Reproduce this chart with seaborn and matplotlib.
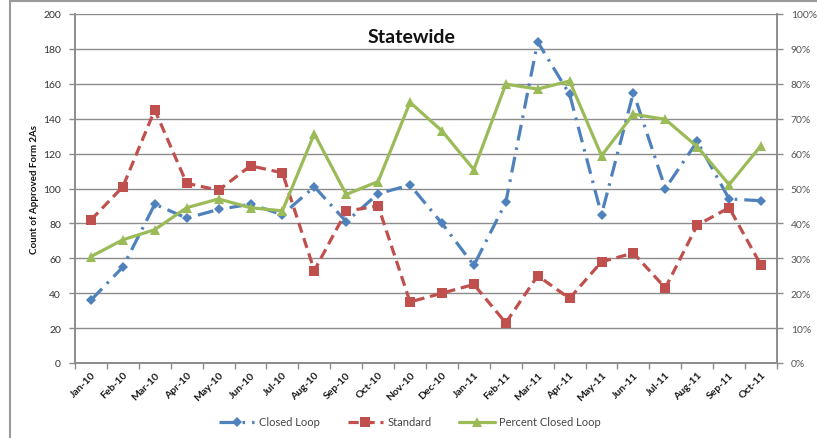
import matplotlib
matplotlib.use("Agg")
import matplotlib.pyplot as plt
from matplotlib.lines import Line2D
from matplotlib.ticker import PercentFormatter, MultipleLocator
import numpy as np
import pandas as pd
import seaborn as sns

months = ["Jan-10", "Feb-10", "Mar-10", "Apr-10", "May-10", "Jun-10", "Jul-10",
          "Aug-10", "Sep-10", "Oct-10", "Nov-10", "Dec-10", "Jan-11", "Feb-11",
          "Mar-11", "Apr-11", "May-11", "Jun-11", "Jul-11", "Aug-11", "Sep-11",
          "Oct-11"]
closed_loop = [36, 55, 91, 83, 88, 91, 85, 101, 81, 97, 102, 80, 56, 92,
               184, 154, 85, 155, 100, 127, 94, 93]
standard = [82, 101, 145, 103, 99, 113, 109, 53, 87, 90, 35, 40, 45, 23,
            50, 37, 58, 63, 43, 79, 89, 56]
percent_closed = [30.5, 35.3, 38.2, 44.5, 47.0, 44.5, 43.6, 65.7, 48.3, 52.0,
                  74.7, 66.5, 55.4, 79.9, 78.5, 80.8, 59.4, 71.3, 69.8, 62.0,
                  51.1, 62.3]

BLUE = "#4F81BD"
RED = "#C0504D"
GREEN = "#9BBB59"
GRID = "#8C8C8C"

BLUE_DASH = (0, (5, 2.2, 0.8, 2.2))
RED_DASH = (0, (3.2, 1.8))

sns.set_theme(style="white")
plt.rcParams["font.family"] = ["Lato", "DejaVu Sans"]

df = pd.DataFrame({
    "idx": np.arange(len(months)),
    "month": months,
    "closed": closed_loop,
    "standard": standard,
    "pct": np.array(percent_closed) / 100.0,
})

fig = plt.figure(figsize=(8.17, 4.39), dpi=100)
ax = fig.add_axes([75 / 817, 1 - 364 / 439, (777 - 75) / 817, (364 - 15) / 439])

sns.lineplot(data=df, x="idx", y="closed", ax=ax, color=BLUE, lw=2.3,
             linestyle=BLUE_DASH, marker="D", markersize=5.5,
             markeredgewidth=0, label="Closed Loop", legend=False)
sns.lineplot(data=df, x="idx", y="standard", ax=ax, color=RED, lw=2.3,
             linestyle=RED_DASH, marker="s", markersize=7,
             markeredgewidth=0, label="Standard", legend=False)

ax2 = ax.twinx()
sns.lineplot(data=df, x="idx", y="pct", ax=ax2, color=GREEN, lw=2.3,
             linestyle="-", marker="^", markersize=7, markeredgewidth=0,
             label="Percent Closed Loop", legend=False)

ax.set_xlim(-0.5, len(months) - 0.5)
ax.set_ylim(0, 200)
ax2.set_ylim(0, 1)
ax.yaxis.set_major_locator(MultipleLocator(20))
ax2.yaxis.set_major_locator(MultipleLocator(0.1))
ax2.yaxis.set_major_formatter(PercentFormatter(1.0, decimals=0))

ax.yaxis.grid(True, color=GRID, lw=1.0)
ax.xaxis.grid(False)
ax2.grid(False)

# category ticks sit between months, labels under each month
ax.set_xticks(np.arange(len(months) + 1) - 0.5)
ax.set_xticklabels([])
ax.set_xticks(np.arange(len(months)), minor=True)
ax.set_xticklabels(months, minor=True, rotation=45, ha="right",
                   rotation_mode="anchor", fontsize=7.5, fontweight="bold",
                   color="#1a1a1a")
ax.tick_params(axis="x", which="major", length=4, width=1, color=GRID,
               direction="out", bottom=True)
ax.tick_params(axis="x", which="minor", length=0, pad=5)
ax.tick_params(axis="y", length=4, width=1, color=GRID, direction="out",
               left=True, labelsize=7.5, labelcolor="#333333", pad=6)
ax2.tick_params(axis="y", length=4, width=1, color=GRID, direction="out",
                right=True, labelsize=7.5, labelcolor="#555555", pad=6)

for a in (ax, ax2):
    a.set_xlabel("")
    for side in ("left", "right", "bottom"):
        a.spines[side].set_color(GRID)
        a.spines[side].set_linewidth(1.2)
    a.spines["top"].set_visible(False)
ax2.set_ylabel("")
ax.set_ylabel("Count of Approved Form 2As", fontsize=7, fontweight="bold",
              color="#111111", labelpad=3)

ax.text(0.48, 0.935, "Statewide", transform=ax.transAxes, ha="center",
        va="center", fontsize=14, fontweight="bold", color="#111111")

handles = [
    Line2D([], [], color=BLUE, lw=2.3, linestyle=BLUE_DASH,
           marker="D", markersize=5.5, markeredgewidth=0),
    Line2D([], [], color=RED, lw=2.3, linestyle=RED_DASH,
           marker="s", markersize=7, markeredgewidth=0),
    Line2D([], [], color=GREEN, lw=2.3, linestyle="-",
           marker="^", markersize=7, markeredgewidth=0),
]
leg = fig.legend(handles, ["Closed Loop", "Standard", "Percent Closed Loop"],
                 loc="center", bbox_to_anchor=(410 / 817, 1 - 423 / 439),
                 ncol=3, frameon=False, fontsize=8, handlelength=3.2,
                 columnspacing=2.5, handletextpad=0.4)
for t in leg.get_texts():
    t.set_color("#444444")

# chart-area frame along the left and top edges
fig.add_artist(Line2D([10 / 817, 10 / 817], [0, 1 - 2 / 439],
                      transform=fig.transFigure, color="#9a9a9a", lw=1.5))
fig.add_artist(Line2D([10 / 817, 1], [1 - 2 / 439, 1 - 2 / 439],
                      transform=fig.transFigure, color="#9a9a9a", lw=1.5))

fig.savefig("out.png", dpi=100)
